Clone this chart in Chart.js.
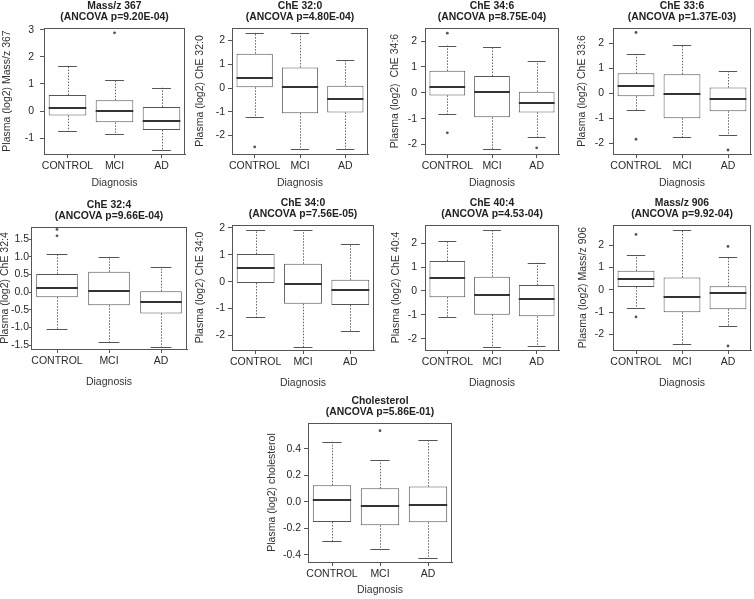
<!DOCTYPE html>
<html>
<head>
<meta charset="utf-8">
<script src="https://cdn.jsdelivr.net/npm/chart.js@4"></script>
<style>
  html, body { margin: 0; padding: 0; background: #fff; overflow: hidden; }
  #fig { position: relative; width: 754px; height: 599px; }
  .panel { position: absolute; }
</style>
</head>
<body>
<div id="fig"></div>
<script>
const categories = ['CONTROL', 'MCI', 'AD'];

// each group: [lower whisker, Q1, median, Q3, upper whisker]
const mass367Stats = [[-0.74, -0.17, 0.11, 0.59, 1.67], [-0.84, -0.42, -0.01, 0.40, 1.16], [-1.46, -0.70, -0.38, 0.15, 0.86]];
const mass367Outliers = [[], [2.89], []];
const mass367Ticks = [-1, 0, 1, 2, 3];

const che320Stats = [[-1.21, 0.03, 0.41, 1.45, 2.34], [-2.59, -1.06, 0.03, 0.87, 2.34], [-2.59, -1.03, -0.45, 0.10, 1.20]];
const che320Outliers = [[-2.48], [], []];
const che320Ticks = [-2, -1, 0, 1, 2];

const che346Stats = [[-0.83, -0.10, 0.21, 0.85, 1.83], [-2.19, -0.95, 0.04, 0.65, 1.78], [-1.73, -0.76, -0.40, 0.04, 1.23]];
const che346Outliers = [[2.31, -1.55], [], [-2.13]];
const che346Ticks = [-2, -1, 0, 1, 2];

const che336Stats = [[-0.69, -0.12, 0.31, 0.80, 1.56], [-1.76, -1.00, -0.05, 0.76, 1.95], [-1.65, -0.72, -0.24, 0.23, 0.89]];
const che336Outliers = [[2.43, -1.84], [], [-2.27]];
const che336Ticks = [-2, -1, 0, 1, 2];

const che324Stats = [[-1.04, -0.14, 0.11, 0.52, 1.09], [-1.41, -0.37, 0.04, 0.58, 1.01], [-1.56, -0.60, -0.27, 0.03, 0.72]];
const che324Outliers = [[1.78, 1.60], [], []];
const che324Ticks = [-1.5, -1.0, -0.5, 0.0, 0.5, 1.0, 1.5];

const che340Stats = [[-1.30, -0.05, 0.50, 1.03, 1.92], [-2.43, -0.82, -0.10, 0.67, 1.92], [-1.85, -0.87, -0.32, 0.07, 1.39]];
const che340Outliers = [[], [], []];
const che340Ticks = [-2, -1, 0, 1, 2];

const che404Stats = [[-1.11, -0.26, 0.54, 1.25, 2.10], [-2.33, -0.99, -0.15, 0.60, 2.56], [-2.30, -1.06, -0.32, 0.25, 1.18]];
const che404Outliers = [[], [], []];
const che404Ticks = [-2, -1, 0, 1, 2];

const mass906Stats = [[-0.81, 0.12, 0.48, 0.85, 1.55], [-2.42, -1.01, -0.31, 0.55, 2.69], [-1.61, -0.87, -0.16, 0.16, 1.48]];
const mass906Outliers = [[2.48, -1.22], [], [1.94, -2.52]];
const mass906Ticks = [-2, -1, 0, 1, 2];

const cholStats = [[-0.297, -0.151, 0.015, 0.126, 0.455], [-0.357, -0.176, -0.030, 0.103, 0.314], [-0.423, -0.153, -0.023, 0.116, 0.465]];
const cholOutliers = [[], [0.538], []];
const cholTicks = [-0.4, -0.2, 0.0, 0.2, 0.4];

Chart.defaults.font.family = "'Liberation Sans', Arial, sans-serif";
Chart.defaults.color = '#333';

// rect = plot area [left, top, right, bottom] in page pixels
var panels = [
  { title: 'Mass/z 367', sub: '(ANCOVA p=9.20E-04)', yLabel: 'Plasma (log2) Mass/z 367', stats: mass367Stats, outliers: mass367Outliers, ticks: mass367Ticks, dec: 0, min: -1.59, max: 3.07, rect: [44, 28, 185, 154], titleX: 7, tickPad: 6, tickLen: 4, xH: 35 },
  { title: 'ChE 32:0', sub: '(ANCOVA p=4.80E-04)', yLabel: 'Plasma (log2) ChE 32:0', stats: che320Stats, outliers: che320Outliers, ticks: che320Ticks, dec: 0, min: -2.78, max: 2.53, rect: [232, 28, 368, 154], titleX: 200, tickPad: 3, tickLen: 4, xH: 35 },
  { title: 'ChE 34:6', sub: '(ANCOVA p=8.75E-04)', yLabel: 'Plasma (log2)  ChE 34:6', stats: che346Stats, outliers: che346Outliers, ticks: che346Ticks, dec: 0, min: -2.37, max: 2.51, rect: [425, 28, 559, 154], titleX: 395, tickPad: 4, tickLen: 4, xH: 35 },
  { title: 'ChE 33:6', sub: '(ANCOVA p=1.37E-03)', yLabel: 'Plasma (log2) ChE 33:6', stats: che336Stats, outliers: che336Outliers, ticks: che336Ticks, dec: 0, min: -2.43, max: 2.61, rect: [613, 28, 751, 154], titleX: 582, tickPad: 5, tickLen: 4, xH: 35 },
  { title: 'ChE 32:4', sub: '(ANCOVA p=9.66E-04)', yLabel: 'Plasma (log2) ChE 32:4', stats: che324Stats, outliers: che324Outliers, ticks: che324Ticks, dec: 1, min: -1.61, max: 1.85, rect: [31, 227, 187, 349], titleX: 5, tickPad: 0, tickLen: 2, xH: 39 },
  { title: 'ChE 34:0', sub: '(ANCOVA p=7.56E-05)', yLabel: 'Plasma (log2) ChE 34:0', stats: che340Stats, outliers: che340Outliers, ticks: che340Ticks, dec: 0, min: -2.54, max: 2.11, rect: [232, 225, 374, 350], titleX: 200, tickPad: 3, tickLen: 4, xH: 39 },
  { title: 'ChE 40:4', sub: '(ANCOVA p=4.53-04)', yLabel: 'Plasma (log2) ChE 40:4', stats: che404Stats, outliers: che404Outliers, ticks: che404Ticks, dec: 0, min: -2.47, max: 2.76, rect: [425, 225, 559, 350], titleX: 396, tickPad: 4, tickLen: 4, xH: 39 },
  { title: 'Mass/z 906', sub: '(ANCOVA p=9.92-04)', yLabel: 'Plasma (log2) Mass/z 906', stats: mass906Stats, outliers: mass906Outliers, ticks: mass906Ticks, dec: 0, min: -2.7, max: 2.9, rect: [613, 225, 751, 350], titleX: 583, tickPad: 5, tickLen: 4, xH: 39 },
  { title: 'Cholesterol', sub: '(ANCOVA p=5.86E-01)', yLabel: 'Plasma (log2) cholesterol', stats: cholStats, outliers: cholOutliers, ticks: cholTicks, dec: 1, min: -0.453, max: 0.596, rect: [308, 423, 452, 562], titleX: 272, tickPad: 3, tickLen: 4, xH: 34 }
];

var fig = document.getElementById('fig');
var padTop = 28, padRight = 2;

function boxPlugin(p) {
  function line(ctx, x1, y1, x2, y2) {
    ctx.beginPath();
    ctx.moveTo(x1, y1);
    ctx.lineTo(x2, y2);
    ctx.stroke();
  }
  return {
    id: 'boxplot',
    beforeDatasetsDraw: function (chart) {
      var ctx = chart.ctx, y = chart.scales.y;
      var bars = chart.getDatasetMeta(0).data;
      ctx.save();
      ctx.strokeStyle = '#666';
      ctx.lineWidth = 1;
      ctx.setLineDash([1.5, 1.5]);
      p.stats.forEach(function (s, i) {
        var x = Math.round(bars[i].x) + 0.5;
        line(ctx, x, y.getPixelForValue(s[3]), x, y.getPixelForValue(s[4]));
        line(ctx, x, y.getPixelForValue(s[1]), x, y.getPixelForValue(s[0]));
      });
      ctx.restore();
    },
    afterDatasetsDraw: function (chart) {
      var ctx = chart.ctx, y = chart.scales.y;
      var bars = chart.getDatasetMeta(0).data;
      ctx.save();
      p.stats.forEach(function (s, i) {
        var x = bars[i].x, half = bars[i].width / 2;
        ctx.strokeStyle = '#555';
        ctx.lineWidth = 1;
        var hi = Math.round(y.getPixelForValue(s[4])) + 0.5;
        var lo = Math.round(y.getPixelForValue(s[0])) + 0.5;
        line(ctx, x - half / 2, hi, x + half / 2, hi);
        line(ctx, x - half / 2, lo, x + half / 2, lo);
        ctx.strokeStyle = '#333';
        ctx.lineWidth = 2;
        var med = Math.round(y.getPixelForValue(s[2]));
        line(ctx, x - half, med, x + half, med);
        ctx.fillStyle = '#555';
        p.outliers[i].forEach(function (v) {
          ctx.beginPath();
          ctx.arc(x, y.getPixelForValue(v), 1.4, 0, Math.PI * 2);
          ctx.fill();
        });
      });
      ctx.restore();
    },
    afterDraw: function (chart) {
      var ctx = chart.ctx, a = chart.chartArea;
      ctx.save();
      ctx.strokeStyle = '#555';
      ctx.lineWidth = 1;
      ctx.strokeRect(Math.round(a.left) + 0.5, Math.round(a.top) + 0.5, Math.round(a.right - a.left) - 1, Math.round(a.bottom - a.top));
      ctx.fillStyle = '#222';
      ctx.font = "bold 10.4px 'Liberation Sans', Arial, sans-serif";
      ctx.textAlign = 'center';
      ctx.textBaseline = 'middle';
      var cx = (a.left + a.right) / 2;
      ctx.fillText(p.title, cx, a.top - 22);
      ctx.fillText(p.sub, cx, a.top - 11);
      ctx.restore();
    }
  };
}

panels.forEach(function (p) {
  var yW = p.rect[0] - p.titleX + 6;
  var w = yW + (p.rect[2] - p.rect[0]) + padRight;
  var h = padTop + (p.rect[3] - p.rect[1]) + p.xH;
  var div = document.createElement('div');
  div.className = 'panel';
  div.style.left = (p.rect[0] - yW) + 'px';
  div.style.top = (p.rect[1] - padTop) + 'px';
  var canvas = document.createElement('canvas');
  canvas.width = w;
  canvas.height = h;
  canvas.style.width = w + 'px';
  canvas.style.height = h + 'px';
  div.appendChild(canvas);
  fig.appendChild(div);

  new Chart(canvas, {
    type: 'bar',
    data: {
      labels: categories,
      datasets: [{
        data: p.stats.map(function (s) { return [s[1], s[3]]; }),
        backgroundColor: '#fff',
        borderColor: '#555',
        borderWidth: 1,
        borderSkipped: false,
        barPercentage: 0.8,
        categoryPercentage: 1
      }]
    },
    options: {
      responsive: false,
      animation: false,
      layout: { padding: { top: padTop, right: padRight, left: 0, bottom: 0 } },
      plugins: {
        legend: { display: false },
        tooltip: { enabled: false }
      },
      scales: {
        x: {
          offset: true,
          grid: { drawOnChartArea: false, offset: false, tickLength: 4, color: '#555' },
          border: { color: '#555' },
          ticks: { color: '#2a2a2a', font: { size: 10.5 }, padding: 2, maxRotation: 0, autoSkip: false },
          title: { display: true, text: 'Diagnosis', color: '#333', font: { size: 10.5 }, padding: 0 },
          afterFit: function (s) { s.height = p.xH; }
        },
        y: {
          min: p.min,
          max: p.max,
          afterBuildTicks: function (s) { s.ticks = p.ticks.map(function (v) { return { value: v }; }); },
          grid: { drawOnChartArea: false, tickLength: p.tickLen, color: '#555' },
          border: { color: '#555' },
          ticks: {
            color: '#2a2a2a',
            font: { size: 10.5 },
            padding: p.tickPad,
            callback: function (v) { return Number(v).toFixed(p.dec); }
          },
          title: { display: true, text: p.yLabel, color: '#333', font: { size: 10.5 }, padding: 0 },
          afterFit: function (s) { s.width = yW; }
        }
      }
    },
    plugins: [boxPlugin(p)]
  });
});
</script>
</body>
</html>
